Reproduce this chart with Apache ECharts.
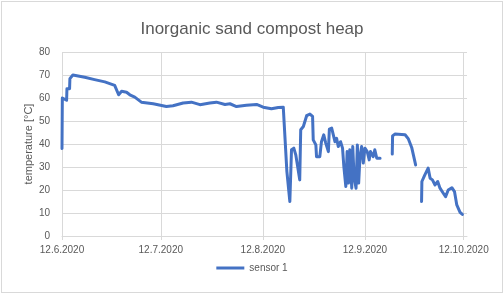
<!DOCTYPE html>
<html>
<head>
<meta charset="utf-8">
<script src="https://cdn.jsdelivr.net/npm/echarts@6/dist/echarts.min.js"></script>
<style>
  html, body { margin: 0; padding: 0; background: #fff; }
  #frame { position: absolute; left: 1px; top: 1px; width: 500px; height: 290px; border: 1px solid #d9d9d9; }
  #chart { position: absolute; left: 0; top: 0; width: 504px; height: 294px; }
</style>
</head>
<body>
<div id="frame"></div>
<div id="chart"></div>
<script>
// Measurement start date and data (days since 12.6.2020, temperature in °C)
const startDate = [2020, 6, 12];
const endDay = 123;
const tickDays = [0, 30, 61, 92, 122];
const tickLabels = ['12.6.2020', '12.7.2020', '12.8.2020', '12.9.2020', '12.10.2020'];
const seriesName = 'sensor 1';

const dayOffset = [
  0.0, 0.1, 1.4, 1.5, 2.3, 2.4, 3.3, 6.9, 9.9, 13.0, 16.0, 16.6, 17.2, 18.1, 19.6, 20.6, 22.1,
  24.1, 27.7, 31.7, 33.7, 36.8, 39.3, 41.9, 44.9, 46.9, 49.5, 51.0, 53.0, 56.0, 59.1, 61.1, 63.6,
  65.7, 67.2, 68.3, 69.2, 69.7, 70.4, 71.0, 72.2, 72.5, 73.3, 74.3, 75.3, 76.1, 76.3, 77.1, 77.3,
  78.3, 78.8, 79.5, 80.1, 80.9, 81.2, 81.9, 82.4, 82.9, 83.4, 83.9, 84.6, 85.2, 85.6, 86.2, 86.6,
  87.0, 87.4, 88.0, 88.3, 88.7, 89.3, 89.7, 90.1, 90.5, 91.0, 91.5, 92.0, 92.7, 93.3, 93.7, 94.5,
  95.0, 95.6, 96.6, 98.0,
  100.3, 100.4, 101.1, 104.2, 105.2, 106.2, 107.4, 108.3,
  109.2, 109.3, 110.2, 111.2, 111.8, 112.5, 113.3, 114.1, 114.8, 115.8, 116.5, 117.3, 118.4,
  119.2, 119.9, 120.9, 121.6
];
const temperature = [
  38, 60, 59, 64, 64, 68.4, 70, 69, 68, 67, 65.5, 65, 61.4, 62.9, 62.5, 61.4, 60.4,
  58.2, 57.5, 56.3, 56.6, 57.8, 58.2, 57.1, 57.8, 58.2, 57.2, 57.5, 56.3, 56.8, 57.2, 56, 55.3,
  55.9, 56, 28, 15, 37.5, 38.2, 35.3, 24.4, 46.2, 47.6, 52.3, 53, 52, 41.8, 39.6, 34.5,
  34.5, 41, 44, 40.4, 36.7, 46.5, 46.9, 46.2, 41, 42.5, 38.9, 41, 38.2, 30.2, 21.5, 36.7,
  23, 37.5, 20.8, 38.9, 25.8, 20.8, 39.6, 23, 34.5, 38.9, 31.7, 38.2, 36.7, 33.1, 36.7, 34.5,
  37.5, 33.8, 33.8, null,
  35.6, 43.5, 44.3, 44, 42.2, 38.5, 30.9, null,
  15, 23.7, 26.6, 29.5, 25.1, 24.4, 22.2, 23.7, 20.8, 18.6, 17.1, 20, 21, 19.3,
  13.5, 10.3, 9.4
];

const DAY = 86400000;
const t0 = Date.UTC(startDate[0], startDate[1] - 1, startDate[2]);
const points = dayOffset.map((d, i) => [t0 + d * DAY, temperature[i]]);
const tickValues = tickDays.map(d => t0 + d * DAY);
const labelOf = {};
tickValues.forEach((v, i) => { labelOf[v] = tickLabels[i]; });

const font = 'Liberation Sans, Arial, sans-serif';
const grey = '#595959';
const chart = echarts.init(document.getElementById('chart'));
chart.setOption({
  animation: false,
  title: {
    text: 'Inorganic sand compost heap',
    left: 'center',
    top: 16,
    textStyle: { fontFamily: font, fontSize: 17, fontWeight: 'normal', color: grey }
  },
  grid: { left: 62, right: 37, top: 52, bottom: 58, containLabel: false },
  legend: {
    bottom: 16,
    left: 'center',
    icon: 'rect',
    itemWidth: 28,
    itemHeight: 3,
    itemGap: 6,
    textStyle: { fontFamily: font, fontSize: 10, color: grey },
    data: [seriesName]
  },
  xAxis: {
    type: 'value',
    min: t0,
    max: t0 + endDay * DAY,
    axisLine: { show: true, lineStyle: { color: '#d9d9d9', width: 1 } },
    axisTick: { show: true, length: 4, customValues: tickValues, lineStyle: { color: '#d9d9d9' } },
    axisLabel: {
      customValues: tickValues,
      formatter: v => labelOf[v] || '',
      fontFamily: font, fontSize: 10, color: grey, margin: 9
    },
    splitLine: { show: true, lineStyle: { color: '#d9d9d9', width: 1 } }
  },
  yAxis: {
    type: 'value',
    min: 0,
    max: 80,
    interval: 10,
    name: 'temperature [°C]',
    nameLocation: 'middle',
    nameGap: 28,
    nameMoveOverlap: false,
    nameTextStyle: { fontFamily: font, fontSize: 11, color: grey },
    axisLine: { show: false },
    axisTick: { show: false },
    axisLabel: { fontFamily: font, fontSize: 10, color: grey, margin: 12 },
    splitLine: { lineStyle: { color: '#d9d9d9', width: 1 } }
  },
  series: [{
    name: seriesName,
    type: 'line',
    data: points,
    showSymbol: false,
    symbol: 'none',
    connectNulls: false,
    itemStyle: { color: '#4472C4' },
    lineStyle: { color: '#4472C4', width: 3, cap: 'round', join: 'round' }
  }]
});
</script>
</body>
</html>
